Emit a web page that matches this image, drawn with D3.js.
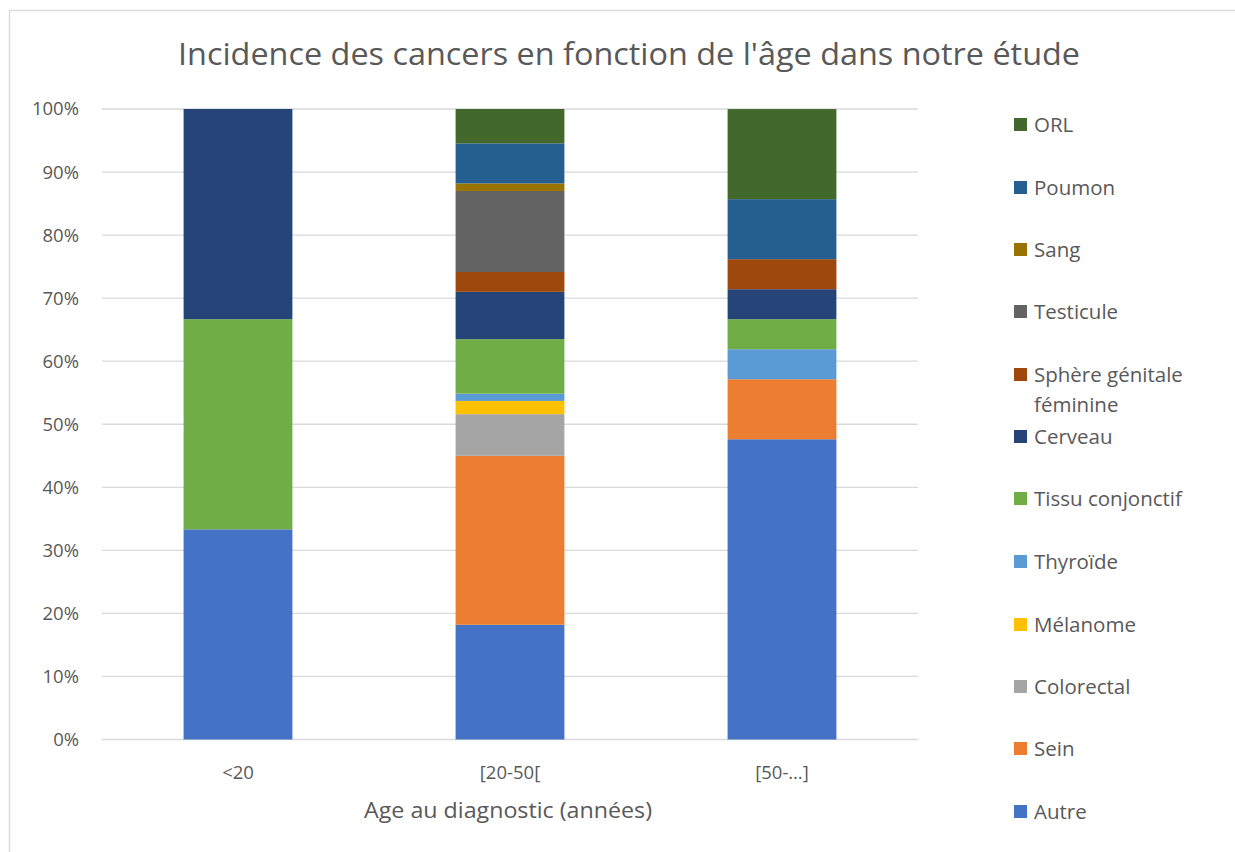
<!DOCTYPE html>
<html><head><meta charset="utf-8">
<script src="https://cdn.jsdelivr.net/npm/d3@7/dist/d3.min.js"></script>
<style>body{margin:0;background:#fff}svg{display:block}text{font-family:"Open Sans",sans-serif;fill:#595959}</style>
</head><body>
<svg id="c" width="1235" height="852"></svg>
<script>
const title = "Incidence des cancers en fonction de l'âge dans notre étude";
const xTitle = "Age au diagnostic (années)";
const categories = ["<20", "[20-50[", "[50-…]"];
const seriesNames = ["Autre","Sein","Colorectal","Mélanome","Thyroïde","Tissu conjonctif","Cerveau","Sphère génitale féminine","Testicule","Sang","Poumon","ORL"];
const seriesColors = ["#4472C4","#ED7D31","#A5A5A5","#FFC000","#5B9BD5","#70AD47","#264478","#9E480E","#636363","#997300","#255E91","#43682B"];
// percentages per category, in seriesNames order
const under20 = [33.33,0,0,0,0,33.33,33.34,0,0,0,0,0];
const age20to50 = [18.2,26.8,6.6,2.1,1.15,8.65,7.5,3.15,12.85,1.2,6.35,5.45];
const over50 = [47.62,9.52,0,0,4.76,4.76,4.76,4.76,0,0,9.52,14.29];
const yTicks = [0,10,20,30,40,50,60,70,80,90,100];

(function(){
const values = [under20, age20to50, over50];
const rows = categories.map((c,i)=>{const o={cat:c}; seriesNames.forEach((s,j)=>o[s]=values[i][j]); return o;});
const stack = d3.stack().keys(seriesNames)(rows);

const svg = d3.select("#c");
svg.append("rect").attr("x",9.5).attr("y",10.5).attr("width",1240).attr("height",860)
  .attr("fill","#fff").attr("stroke","#d9d9d9").attr("stroke-width",1.3);

const pL=102, pR=918, pT=109, pB=739.5;
const x = d3.scaleBand().domain(categories).range([pL,pR]).paddingInner(0.6).paddingOuter(0.3);
const y = d3.scaleLinear().domain([0,100]).range([pB,pT]);

svg.append("g").selectAll("line").data(yTicks).join("line")
  .attr("x1",pL).attr("x2",pR).attr("y1",d=>y(d)).attr("y2",d=>y(d))
  .attr("stroke","#d9d9d9").attr("stroke-width",1.3);

svg.append("g").selectAll("text").data(yTicks).join("text")
  .attr("x",79).attr("y",d=>y(d)).attr("dy","0.35em").attr("text-anchor","end")
  .style("font-size","18.5px").text(d=>d+"%");

svg.append("g").selectAll("g").data(stack).join("g")
  .attr("fill",(d,i)=>seriesColors[i])
  .selectAll("rect").data(d=>d).join("rect")
  .attr("x",d=>x(d.data.cat)).attr("width",x.bandwidth())
  .attr("y",d=>y(d[1])).attr("height",d=>Math.max(0,y(d[0])-y(d[1])));

svg.append("g").selectAll("text").data(categories).join("text")
  .attr("x",d=>x(d)+x.bandwidth()/2).attr("y",779).attr("text-anchor","middle")
  .style("font-size","18.5px").text(d=>d);

svg.append("text").attr("x",508).attr("y",818).attr("text-anchor","middle")
  .attr("textLength",288).attr("lengthAdjust","spacingAndGlyphs")
  .style("font-size","22px").text(xTitle);

svg.append("text").attr("x",629).attr("y",65).attr("text-anchor","middle")
  .attr("textLength",902).attr("lengthAdjust","spacingAndGlyphs")
  .style("font-size","31px").text(title);

const legY = [125,188,250,312,375,437,499,562,625,687,749,812];
const legend = svg.append("g");
seriesNames.slice().reverse().forEach((s,i)=>{
  const idx = seriesNames.length-1-i;
  const g = legend.append("g").attr("transform",`translate(1014,${legY[i]})`);
  g.append("rect").attr("x",0).attr("y",-7).attr("width",13).attr("height",13).attr("fill",seriesColors[idx]);
  if (s==="Sphère génitale féminine") {
    const t = g.append("text").attr("x",20).attr("y",0).attr("dy","0.35em").style("font-size","20.5px");
    t.append("tspan").attr("x",20).text("Sphère génitale");
    t.append("tspan").attr("x",20).attr("dy",30).text("féminine");
  } else {
    g.append("text").attr("x",20).attr("y",0).attr("dy","0.35em").style("font-size","20.5px").text(s);
  }
});
})();
</script>
</body></html>
